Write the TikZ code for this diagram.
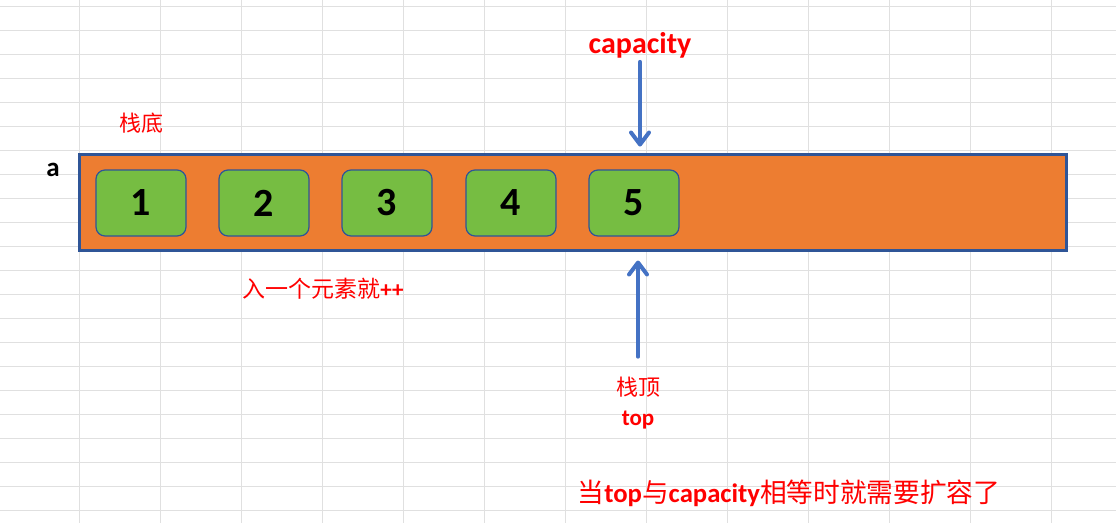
\documentclass[tikz,border=0pt]{standalone}
\usepackage{fontspec}
\setmainfont{Carlito}
\newfontfamily\cjk{Noto Sans CJK SC}
\usetikzlibrary{arrows.meta,calc,positioning}
\definecolor{stkorange}{RGB}{237,125,49}
\definecolor{stkgreen}{RGB}{118,189,66}
\definecolor{stkedge}{RGB}{47,85,151}
\definecolor{stkblue}{RGB}{68,114,196}
\definecolor{stkgrid}{RGB}{224,224,224}
\definecolor{stkred}{RGB}{255,0,0}

\begin{document}
\begin{tikzpicture}[x=1pt,y=-1pt,
    cell/.style={draw=stkedge,line width=1.2pt,fill=stkgreen,rounded corners=9pt,minimum width=90pt,minimum height=66pt,inner sep=0pt,font=\fontsize{40}{40}\selectfont\bfseries},
    note/.style={text=stkred,inner sep=0pt},
    ptr/.style={draw=stkblue,line width=4pt,line cap=round,-{Straight Barb[length=12pt,width=18pt,line cap=round,line join=round]}}]
    \useasboundingbox (0,0) rectangle (1116,523);
    % sheet grid
    \foreach \k in {0,...,14} \draw[stkgrid,line width=1pt] ({79+81.05*(\k-1)},0) -- ++(0,523);
    \foreach \k in {0,...,21} \draw[stkgrid,line width=1pt] (0,{6+24*\k}) -- ++(1116,0);
    \node[draw=stkedge,line width=3pt,fill=stkorange,minimum width=987pt,minimum height=96pt,inner sep=0pt] (stack) at (572.5,202) {};
    \foreach \n/\x in {1/141,2/264,3/387,4/511,5/634} \node[cell] (c\n) at (\x,203) {\n};
    \node[note,font=\cjk\fontsize{22}{22}\selectfont] (bottom) at (141,123) {栈底};
    \node[anchor=base,inner sep=0pt,font=\fontsize{27}{27}\selectfont\bfseries] (aname) at (53,176) {a};
    \node[note,anchor=base,font=\fontsize{30}{30}\selectfont\bfseries] (cap) at (640,53) {capacity};
    \node[note,font=\cjk\fontsize{23}{23}\selectfont] (push) at (323,289) {入一个元素就{\rmfamily\bfseries ++}};
    \node[note,font=\cjk\fontsize{22}{22}\selectfont] (topcn) at (638,387) {栈顶};
    \node[note,anchor=base,font=\fontsize{23}{23}\selectfont\bfseries] (toplbl) at (638,425) {top};
    \node[note,anchor=base,font=\fontsize{26.7}{27}\selectfont] (rule) at (789,502) {{\cjk 当}\textbf{top}{\cjk 与}\textbf{capacity}{\cjk 相等时就需要扩容了}};
    \draw[ptr,shorten <=4pt,shorten >=6pt] (cap.south) -- (cap.south |- stack.north);
    \draw[ptr,shorten <=20pt,shorten >=9pt] (topcn.north) -- (topcn.north |- stack.south);
\end{tikzpicture}
\end{document}
